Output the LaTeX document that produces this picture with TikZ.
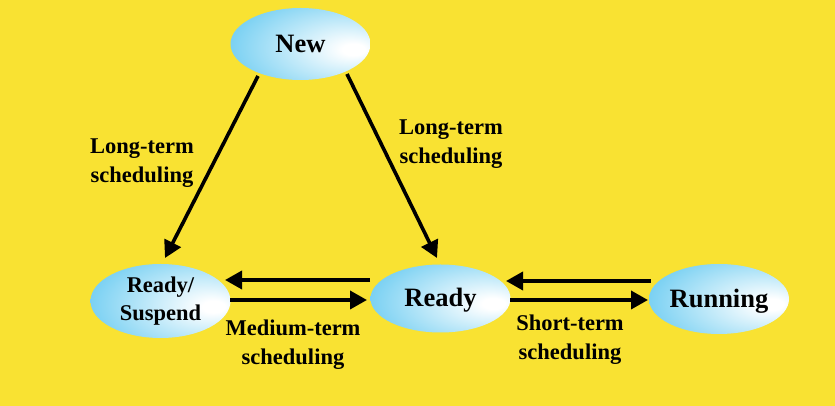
\documentclass[tikz,border=0pt]{standalone}
\usepackage{fontspec}
\setmainfont{Liberation Serif}
\usetikzlibrary{shapes.geometric,arrows.meta,calc}
\definecolor{bgyellow}{RGB}{249,226,50}
\definecolor{sky}{RGB}{74,192,238}
\pgfdeclareradialshading{ellshade}{\pgfpoint{20bp}{-4bp}}{color(0bp)=(white); color(4bp)=(white); color(48bp)=(sky); color(80bp)=(sky)}
\tikzset{
  state/.style={ellipse, minimum width=140pt, inner sep=0pt, shading=ellshade, font=\bfseries\fontsize{26.5}{30}\selectfont},
  lbl/.style={align=center, inner sep=0pt, font=\bfseries\fontsize{22.5}{29}\selectfont},
  arr/.style={line width=3.6pt, -{Triangle[length=17pt,width=18pt]}}
}
\begin{document}
\begin{tikzpicture}[x=1pt,y=1pt]
\fill[bgyellow] (0,0) rectangle (835,406);
\useasboundingbox (0,0) rectangle (835,406);
\node[state, minimum height=72pt] (new) at (300.5,362) {New};
\node[state, minimum height=74pt, align=center, font=\bfseries\fontsize{22.5}{28}\selectfont] (rs) at (160.5,105) {Ready/\\Suspend};
\node[state, minimum height=68pt, text depth=2pt] (ready) at (440.5,107.5) {Ready};
\node[state, minimum height=70pt, text depth=2pt] (run) at (719,107) {Running};
\draw[arr] ($(new)+(-42.5,-32)$) -- ($(rs)+(4.5,43)$);
\draw[arr] ($(new)+(46.5,-30)$) -- ($(ready)+(-3.5,40.5)$);
\draw[arr] ($(ready)+(-70.5,18.5)$) -- ($(rs)+(64.5,21)$);
\draw[arr] ($(rs)+(69.5,1)$) -- ($(ready)+(-73.5,-1.5)$);
\draw[arr] ($(run)+(-68,18)$) -- ($(ready)+(65.5,17.5)$);
\draw[arr] ($(ready)+(69.5,-1.5)$) -- ($(run)+(-71,-1)$);
\node[lbl] (l1) at (142,243) {Long-term\\scheduling};
\node[lbl] (l2) at (451,262) {Long-term\\scheduling};
\node[lbl] (l3) at (293,61) {Medium-term\\scheduling};
\node[lbl] (l4) at (570,66) {Short-term\\scheduling};
\end{tikzpicture}
\end{document}
